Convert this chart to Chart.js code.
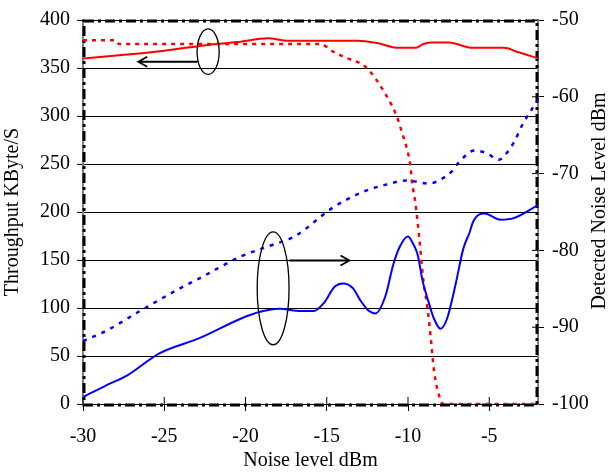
<!DOCTYPE html>
<html>
<head>
<meta charset="utf-8">
<script src="https://cdn.jsdelivr.net/npm/chart.js@4.4.0/dist/chart.umd.min.js"></script>
<style>
  body { margin: 0; background: #fff; }
</style>
</head>
<body>
<canvas id="myChart" width="613" height="474"></canvas>
<script>
// throughput, KByte/S (left axis)
const redSolidX = [-30, -27.3, -25, -22.8, -20.5, -18.6, -17.4, -16, -13.1, -11.9, -10.6, -9.55, -9.05, -8.5, -7.5, -6, -4.1, -3.3, -2];
const redSolidY = [360, 364, 368, 373, 377, 381, 378.5, 378.5, 378.5, 376, 371, 371, 375, 376.5, 376.5, 371, 371, 367, 360];

const redDotX = [-30, -28, -27.8, -16, -15.4, -14.6, -14.0, -12.6, -12.0, -11.5, -10.7, -10.3, -10.05, -9.85, -9.75, -9.55, -9.3, -9.05, -8.8, -8.6, -8.4, -8.0, -7.8, -2];
const redDotY = [379, 379, 375, 375, 375, 367, 362, 351, 339, 326, 300, 279, 265, 248, 231, 210, 172, 128, 100, 69, 35, 4, 0, 0];

// detected noise level, dBm (right axis)
const blueDotX = [-30, -28.6, -26.5, -24, -22.8, -20.3, -18.5, -17, -14.6, -12.8, -11.3, -10.1, -8.7, -8.1, -7.3, -6.9, -5.9, -5.2, -4.4, -4.0, -3.5, -2.9, -2];
const blueDotY = [-91.8, -90.5, -87.9, -84.9, -83.6, -80.8, -79.4, -78.2, -74.4, -72.4, -71.4, -70.9, -71.3, -70.9, -69.7, -68.6, -67, -67.3, -68.2, -67.5, -66, -63.4, -60.4];

const blueSolidX = [-30, -28.6, -27.3, -25.3, -22.8, -20.3, -19.1, -17.9, -16.6, -15.8, -15.2, -14.5, -14.0, -13.4, -12.9, -12.4, -12.0, -11.4, -10.9, -10.5, -10.0, -9.7, -9.4, -9.1, -8.75, -8.4, -8.0, -7.6, -7.1, -6.6, -6.2, -6.0, -5.6, -5.3, -4.3, -3.5, -2];
const blueSolidY = [-99.1, -97.6, -96.3, -93.4, -91.4, -88.9, -88, -87.6, -87.9, -87.9, -86.9, -84.7, -84.3, -84.9, -86.6, -87.9, -88.2, -86, -81.8, -79.5, -78.2, -79.1, -80.6, -84, -86.6, -88.9, -90.2, -88.9, -84.7, -79.8, -77.6, -76.3, -75.3, -75.2, -76, -75.8, -74.1];

const xTicks = [-30, -25, -20, -15, -10, -5];
const leftTicks = [0, 50, 100, 150, 200, 250, 300, 350, 400];
const rightTicks = [-100, -90, -80, -70, -60, -50];

function pts(xs, ys) {
    return xs.map((x, i) => ({ x: x, y: ys[i] }));
}

const serif = 'Liberation Serif, Times New Roman, serif';
const tickFont = { family: serif, size: 20 };

// ellipses + arrows, in data units of x / left axis
const marks = {
    ellipses: [
        { cx: -22.3, cy: 367, rx: 0.68, ry: 23.7 },
        { cx: -18.3, cy: 120.5, rx: 0.98, ry: 58.8 }
    ],
    arrows: [
        { from: -22.95, to: -26.6, y: 356.5 },
        { from: -17.3, to: -13.6, y: 149.5 }
    ]
};

const framePlugin = {
    id: 'frame',
    beforeDatasetsDraw(chart) {
        const ctx = chart.ctx;
        const a = chart.chartArea;
        ctx.save();
        // inner tick marks
        ctx.strokeStyle = '#000';
        ctx.lineWidth = 1;
        ctx.beginPath();
        xTicks.forEach(v => {
            const px = chart.scales.x.getPixelForValue(v);
            ctx.moveTo(px, a.bottom);
            ctx.lineTo(px, a.bottom - 7);
        });
        rightTicks.forEach(v => {
            const py = chart.scales.y2.getPixelForValue(v);
            ctx.moveTo(a.right, py);
            ctx.lineTo(a.right - 6, py);
        });
        ctx.stroke();
        // dash-dot frame
        ctx.lineWidth = 3;
        ctx.setLineDash([10, 4, 3, 4]);
        ctx.strokeRect(a.left + 1, a.top + 1, a.right - a.left - 2, a.bottom - a.top);
        ctx.restore();
    },
    afterDatasetsDraw(chart) {
        const ctx = chart.ctx;
        const xs = chart.scales.x, ys = chart.scales.y;
        ctx.save();
        ctx.strokeStyle = '#000';
        ctx.lineWidth = 1.3;
        marks.ellipses.forEach(e => {
            const cx = xs.getPixelForValue(e.cx), cy = ys.getPixelForValue(e.cy);
            const rx = Math.abs(xs.getPixelForValue(e.cx + e.rx) - cx);
            const ry = Math.abs(ys.getPixelForValue(e.cy + e.ry) - cy);
            ctx.beginPath();
            ctx.ellipse(cx, cy, rx, ry, 0, 0, 2 * Math.PI);
            ctx.stroke();
        });
        ctx.lineWidth = 1.8;
        marks.arrows.forEach(ar => {
            const x1 = xs.getPixelForValue(ar.from), x2 = xs.getPixelForValue(ar.to);
            const y = ys.getPixelForValue(ar.y);
            const dir = x2 > x1 ? 1 : -1;
            ctx.beginPath();
            ctx.moveTo(x1, y);
            ctx.lineTo(x2, y);
            ctx.moveTo(x2 - dir * 9, y - 5);
            ctx.lineTo(x2, y);
            ctx.lineTo(x2 - dir * 9, y + 5);
            ctx.stroke();
        });
        // right axis title, reading bottom to top
        const a = chart.chartArea;
        ctx.fillStyle = '#000';
        ctx.font = '20px ' + serif;
        ctx.textAlign = 'center';
        ctx.textBaseline = 'middle';
        ctx.translate(600, (a.top + a.bottom) / 2 - 11);
        ctx.rotate(-Math.PI / 2);
        ctx.fillText('Detected Noise Level dBm', 0, 0);
        ctx.restore();
    }
};

const ctx = document.getElementById('myChart').getContext('2d');
const myChart = new Chart(ctx, {
    type: 'line',
    data: {
        datasets: [
            {
                data: pts(blueDotX, blueDotY),
                yAxisID: 'y2',
                borderColor: '#0000ff',
                borderWidth: 2.5,
                borderDash: [4, 6],
                pointRadius: 0,
                cubicInterpolationMode: 'monotone'
            },
            {
                data: pts(blueSolidX, blueSolidY),
                yAxisID: 'y2',
                borderColor: '#0000ff',
                borderWidth: 2,
                pointRadius: 0,
                cubicInterpolationMode: 'monotone'
            },
            {
                data: pts(redDotX, redDotY),
                yAxisID: 'y',
                borderColor: '#ff0000',
                borderWidth: 2.5,
                borderDash: [4, 5],
                pointRadius: 0,
                cubicInterpolationMode: 'monotone'
            },
            {
                data: pts(redSolidX, redSolidY),
                yAxisID: 'y',
                borderColor: '#ff0000',
                borderWidth: 2,
                pointRadius: 0,
                cubicInterpolationMode: 'monotone'
            }
        ]
    },
    plugins: [framePlugin],
    options: {
        responsive: false,
        animation: false,
        layout: { padding: { top: 16, left: 0, right: 0, bottom: 0 } },
        plugins: {
            legend: { display: false },
            tooltip: { enabled: false }
        },
        scales: {
            x: {
                type: 'linear',
                position: 'bottom',
                min: -30,
                max: -2,
                afterBuildTicks: s => { s.ticks = xTicks.map(v => ({ value: v })); },
                ticks: { font: tickFont, color: '#000', padding: 14, maxRotation: 0 },
                grid: { drawOnChartArea: false, tickLength: 7, color: '#000' },
                border: { display: false },
                title: {
                    display: true,
                    text: 'Noise level dBm',
                    font: tickFont,
                    color: '#000',
                    padding: { top: 0, bottom: 1 }
                },
                afterFit: s => { s.height = 70; }
            },
            y: {
                position: 'left',
                min: 0,
                max: 400,
                afterBuildTicks: s => { s.ticks = leftTicks.map(v => ({ value: v })); },
                ticks: { font: tickFont, color: '#000', padding: 7 },
                grid: { color: '#000', lineWidth: 1, tickLength: 6 },
                border: { display: true, color: '#808080', width: 2 },
                title: {
                    display: true,
                    text: 'Throughput KByte/S',
                    font: tickFont,
                    color: '#000',
                    padding: { top: 1, bottom: 0 }
                },
                afterFit: s => { s.width = 83; }
            },
            y2: {
                position: 'right',
                min: -100,
                max: -50,
                afterBuildTicks: s => { s.ticks = rightTicks.map(v => ({ value: v })); },
                ticks: { font: tickFont, color: '#000', padding: 8 },
                grid: { drawOnChartArea: false, tickLength: 6, color: '#000' },
                border: { display: true, color: '#808080', width: 2 },
                afterFit: s => { s.width = 75; }
            }
        }
    }
});
</script>
</body>
</html>
